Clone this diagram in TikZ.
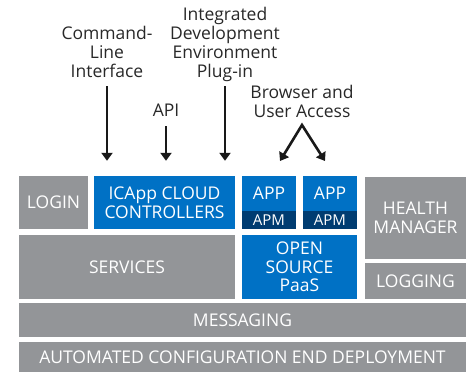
\documentclass[tikz,border=0pt]{standalone}
\usepackage{fontspec}
\setmainfont{Open Sans}
\usetikzlibrary{arrows.meta}

\definecolor{boxgray}{RGB}{147,149,152}
\definecolor{icblue}{RGB}{0,113,197}
\definecolor{apmblue}{RGB}{0,60,113}
\definecolor{labelgray}{RGB}{40,40,40}

\tikzset{
  block/.style={inner sep=0pt, text=white, align=center, font=\fontsize{17.5}{18.5}\selectfont},
  graybox/.style={block, fill=boxgray},
  bluebox/.style={block, fill=icblue},
  apmbox/.style={block, fill=apmblue, font=\fontsize{15}{16}\selectfont},
  lbl/.style={align=center, text=labelgray, inner sep=0pt, font=\fontsize{17.5}{19}\selectfont},
  arr/.style={line width=2.6pt, draw=black!90, -{Triangle[width=11pt,length=8pt]}}
}

\begin{document}
\begin{tikzpicture}[x=1pt, y=-1pt]

        \useasboundingbox (0,0) rectangle (471,372);

        % Top row of blocks
        \node[graybox, minimum width=69pt, minimum height=53pt] (login) at (53.5,202.5) {LOGIN};
        \node[bluebox, minimum width=141pt, minimum height=53pt] (ctrl) at (164.5,202.5) {ICApp CLOUD\\CONTROLLERS};
        \node[bluebox, minimum width=54pt, minimum height=35pt] (appa) at (269,193.5) {APP};
        \node[apmbox, minimum width=54pt, minimum height=18pt] (apma) at (269,220) {APM};
        \node[bluebox, minimum width=54pt, minimum height=35pt] (appb) at (330,193.5) {APP};
        \node[apmbox, minimum width=54pt, minimum height=18pt] (apmb) at (330,220) {APM};
        \node[graybox, minimum width=101pt, minimum height=82pt] (health) at (415.5,218) {HEALTH\\MANAGER};

        % Middle row
        \node[graybox, minimum width=216pt, minimum height=64pt] (services) at (127,267) {SERVICES};
        \node[bluebox, minimum width=115pt, minimum height=64pt] (paas) at (299.5,267) {OPEN\\SOURCE\\PaaS};
        \node[graybox, minimum width=101pt, minimum height=36pt] (logging) at (415.5,281) {LOGGING};

        % Bottom layers
        \node[graybox, minimum width=447pt, minimum height=34pt] (msg) at (242.5,320) {MESSAGING};
        \node[graybox, minimum width=447pt, minimum height=30pt] (auto) at (242.5,357) {AUTOMATED CONFIGURATION END DEPLOYMENT};

        % Access points above the controllers
        \node[lbl, anchor=south] (cli) at (107,78) {Command-\\Line\\Interface};
        \node[lbl, anchor=south] (api) at (166,117) {API};
        \node[lbl, anchor=south] (ide) at (225,82) {Integrated\\Development\\Environment\\Plug-in};
        \node[lbl, anchor=south] (web) at (302,118) {Browser and\\User Access};

        % Arrows into the stack
        \coordinate (split) at (302,125);
        \draw[arr, shorten <=8pt, shorten >=15pt] (cli.south) -- (cli.south |- ctrl.north);
        \draw[arr, shorten <=9pt, shorten >=15pt] (api.south) -- (api.south |- ctrl.north);
        \draw[arr, shorten <=4pt, shorten >=15pt] (ide.south) -- (ide.south |- ctrl.north);
        \draw[arr, {Triangle[width=11pt,length=8pt]}-{Triangle[width=11pt,length=8pt]}, miter limit=10]
            (280,161) -- (split) -- (325,161);

    \end{tikzpicture}
\end{document}
